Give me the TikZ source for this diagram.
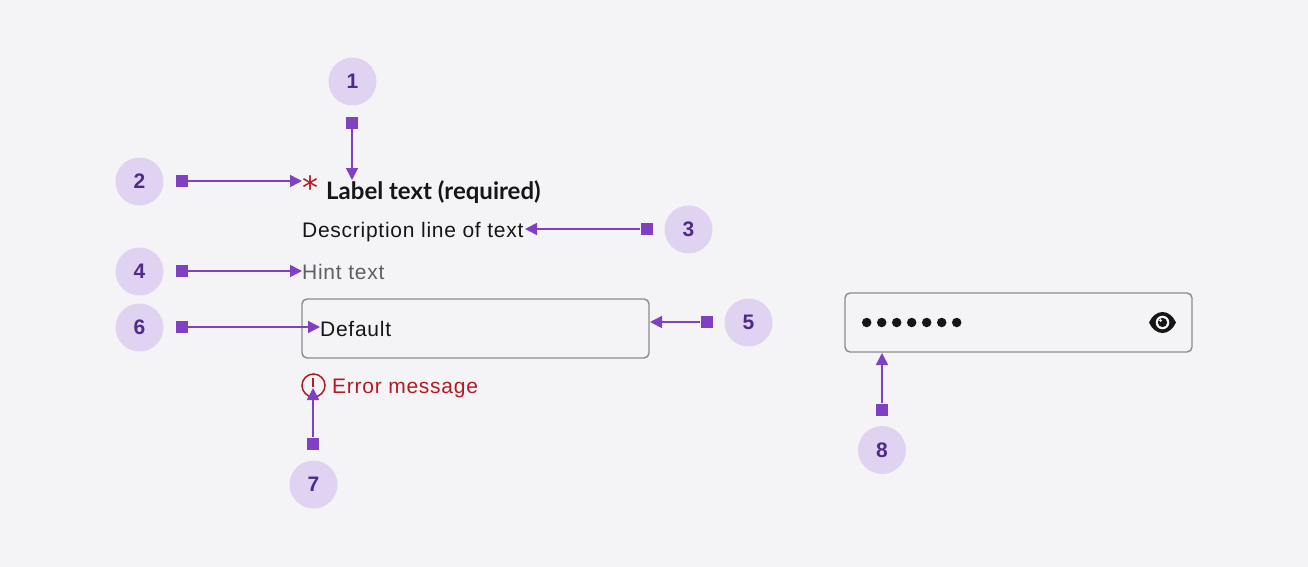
\documentclass[tikz,border=0pt]{standalone}
\usepackage{fontspec}
\setmainfont[LetterSpace=3.5]{Liberation Sans}
\newfontfamily\badgefont{Liberation Sans}
\newfontfamily\labelfont{Lato}
\newfontfamily\starfont{DejaVu Sans}
\usetikzlibrary{arrows.meta}
\definecolor{pagebg}{HTML}{F4F4F7}
\definecolor{badgefill}{HTML}{E0D3F1}
\definecolor{badgetext}{HTML}{4F2A8A}
\definecolor{marker}{HTML}{7F40C4}
\definecolor{inktext}{HTML}{161616}
\definecolor{hinttext}{HTML}{5F5F5F}
\definecolor{fieldline}{HTML}{8C8C8C}
\definecolor{errortext}{HTML}{B01C24}
\begin{document}
\begin{tikzpicture}[
	x=1pt, y=-1pt,
	badge/.style={
		circle, fill=badgefill, text=badgetext,
		minimum size=48pt, inner sep=0pt,
		font=\fontsize{21}{24}\selectfont\badgefont\bfseries
	},
	stub/.style={
		rectangle, fill=marker,
		minimum size=12pt, inner sep=0pt
	},
	line/.style={draw=marker, line width=1.5pt, -{Triangle[length=12pt,width=12pt]}},
	field/.style={
		rectangle, rounded corners=5pt,
		draw=fieldline, line width=1.4pt,
		minimum width=347pt, minimum height=59pt, inner sep=0pt
	},
	copy/.style={
		anchor=base west, inner sep=0pt, text=inktext,
		font=\fontsize{21}{24}\selectfont
	},
	pip/.style={circle, fill=inktext, minimum size=9.5pt, inner sep=0pt},
	]
	\useasboundingbox (0,0) rectangle (1308,567);
	\fill [pagebg] (0,0) rectangle (1308,567);

	% form field on the left
	\node [copy, font=\fontsize{24}{28}\selectfont\labelfont\bfseries] (labeltext) at (326,199.5) {Label text (required)};
	\node [copy, text=errortext, font=\fontsize{32}{32}\selectfont\starfont] (star) at (302.5,199) {*};
	\node [copy] (desc) at (302,237) {Description line of text};
	\node [copy, text=hinttext] (hint) at (302,279) {Hint text};
	\node [field] (input) at (475.5,328.5) {};
	\node [copy] (default) at (320,336) {Default};
	\node [circle, draw=errortext, line width=1.5pt, minimum size=23pt, inner sep=0pt] (erricon) at (313.5,385.5) {};
	\draw [errortext, line width=2pt] (erricon.center) ++(-0.5,-7.5) -- ++(0,9);
	\node [copy, text=errortext] (error) at (332,393) {Error message};

	% password field on the right
	\node [field] (password) at (1018.5,322.5) {};
	\node [pip] (p1) at (866.7,322.5) {};
	\node [pip] (p2) at (881.7,322.5) {};
	\node [pip] (p3) at (896.7,322.5) {};
	\node [pip] (p4) at (911.7,322.5) {};
	\node [pip] (p5) at (926.7,322.5) {};
	\node [pip] (p6) at (941.7,322.5) {};
	\node [pip] (p7) at (956.7,322.5) {};
	\fill [inktext] (1149,322.5) .. controls (1152,316) and (1157,312) .. (1162.5,312)
		.. controls (1168,312) and (1173,316) .. (1176,322.5)
		.. controls (1173,329) and (1168,333) .. (1162.5,333)
		.. controls (1157,333) and (1152,329) .. (1149,322.5) -- cycle;
	\fill [pagebg] (1162.5,322.5) circle (6.8);
	\fill [inktext] (1162.5,322.5) circle (4.6);
	\fill [pagebg] (1160.5,320.5) circle (1.5);

	% numbered callouts
	\node [badge] (n1) at (352.5,81.5) {1};
	\node [badge] (n2) at (139.5,181.5) {2};
	\node [badge] (n3) at (688.5,229.5) {3};
	\node [badge] (n4) at (139.5,271.5) {4};
	\node [badge] (n5) at (748.5,322.5) {5};
	\node [badge] (n6) at (139.5,327.5) {6};
	\node [badge] (n7) at (313.5,484.5) {7};
	\node [badge] (n8) at (882,450) {8};

	\node [stub] (s1) at (352,123) {};
	\node [stub] (s2) at (181.5,181) {};
	\node [stub] (s3) at (646.5,229) {};
	\node [stub] (s4) at (181.5,271) {};
	\node [stub] (s5) at (706.5,322) {};
	\node [stub] (s6) at (181.5,327) {};
	\node [stub] (s7) at (313,443.5) {};
	\node [stub] (s8) at (882,409.5) {};

	\coordinate (t1) at (352,180);
	\coordinate (t2) at (302,181);
	\coordinate (t3) at (525,229);
	\coordinate (t4) at (302,271);
	\coordinate (t5) at (650,322);
	\coordinate (t6) at (320,327);
	\coordinate (t7) at (313,388);
	\coordinate (t8) at (882,353);

	\path [line] (s1) -- (t1);
	\path [line] (s2) -- (t2);
	\path [line] (s3) -- (t3);
	\path [line] (s4) -- (t4);
	\path [line] (s5) -- (t5);
	\path [line] (s6) -- (t6);
	\path [line] (s7) -- (t7);
	\path [line] (s8) -- (t8);
\end{tikzpicture}
\end{document}
